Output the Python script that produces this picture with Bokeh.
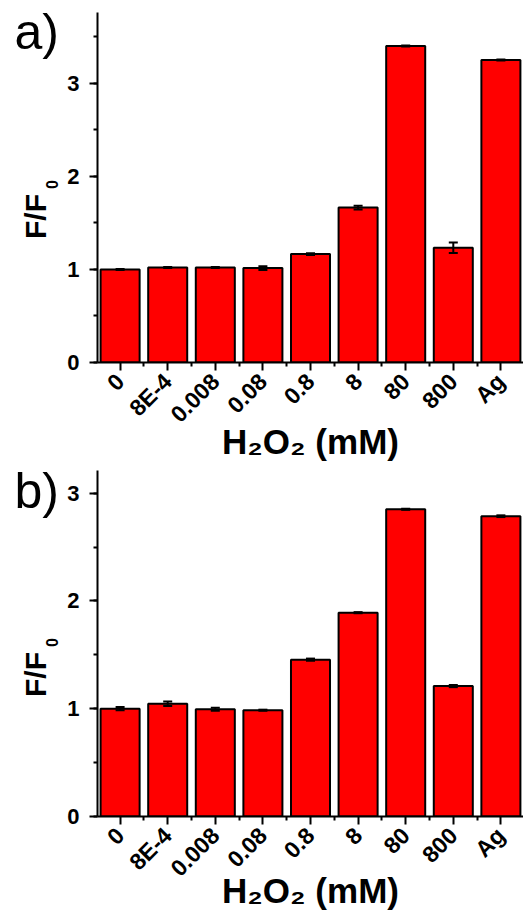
import math

from bokeh.embed import file_html
from bokeh.layouts import column, row
from bokeh.models import (ColumnDataSource, FixedTicker, Label, Range1d,
                          SingleIntervalTicker, TeeHead, Whisker)
from bokeh.plotting import figure
from bokeh.resources import INLINE

# H2O2 concentrations (mM) plus the Ag reference
categories = ["0", "8E-4", "0.008", "0.08", "0.8", "8", "80", "800", "Ag"]

# Panel a: relative fluorescence F/F0 and its error
a_values = [1.00, 1.02, 1.02, 1.015, 1.165, 1.665, 3.40, 1.233, 3.25]
a_errors = [0.005, 0.005, 0.005, 0.02, 0.01, 0.02, 0.005, 0.057, 0.005]

# Panel b: relative fluorescence F/F0 and its error
b_values = [1.00, 1.046, 0.995, 0.986, 1.455, 1.891, 2.85, 1.21, 2.786]
b_errors = [0.015, 0.02, 0.015, 0.005, 0.01, 0.005, 0.005, 0.01, 0.008]

x_title = "H\u2082O\u2082 (mM)"

FONT = "Liberation Sans"
RED = "#ff0000"
PAGE_W, PAGE_H = 523, 913
SIDE_W = 64          # strip left of the charts holding letters and y titles
AXIS_X = 95          # page position of the y axis line
CHART_W = PAGE_W - SIDE_W
X_START, X_END = -0.475, len(categories) - 0.525


def put(p, s, x, y, size, bold=True, angle=0.0, align="left"):
    # x, y in page pixels from the top-left corner
    p.add_layout(Label(x=x, y=PAGE_H - y, text=s, text_font=FONT,
                       text_font_size=f"{size}px",
                       text_font_style="bold" if bold else "normal",
                       text_color="black", angle=angle,
                       text_align=align, text_baseline="middle"))


def chart(values, errors, y_max, height, top, bottom, title_standoff):
    p = figure(width=CHART_W, height=height, output_backend="svg",
               toolbar_location=None, x_range=Range1d(X_START, X_END),
               y_range=Range1d(0, y_max),
               min_border_left=AXIS_X - SIDE_W, min_border_right=0,
               min_border_top=top, min_border_bottom=bottom)
    p.outline_line_color = None
    p.grid.visible = False

    idx = list(range(len(categories)))
    src = ColumnDataSource(dict(
        x=idx, top=values,
        upper=[v + e for v, e in zip(values, errors)],
        lower=[v - e for v, e in zip(values, errors)]))

    p.vbar(x="x", top="top", bottom=0, width=0.82, source=src,
           fill_color=RED, line_color="black", line_width=2)

    p.add_layout(Whisker(
        source=src, base="x", upper="upper", lower="lower",
        line_color="black", line_width=2, level="overlay",
        upper_head=TeeHead(size=9, line_width=2, line_color="black"),
        lower_head=TeeHead(size=9, line_width=2, line_color="black")))

    xa = p.xaxis[0]
    xa.ticker = FixedTicker(ticks=idx,
                            minor_ticks=[i + 0.5 for i in idx[:-1]])
    xa.major_label_overrides = {i: c for i, c in enumerate(categories)}
    xa.major_label_orientation = math.pi / 4
    xa.axis_label = x_title
    xa.axis_label_text_font = FONT
    xa.axis_label_text_font_style = "bold"
    xa.axis_label_text_font_size = "35px"
    xa.axis_label_text_color = "black"
    xa.axis_label_standoff = title_standoff

    ya = p.yaxis[0]
    ya.ticker = SingleIntervalTicker(interval=1, num_minor_ticks=2)

    for ax in (xa, ya):
        ax.axis_line_width = 2
        ax.axis_line_color = "black"
        ax.major_tick_line_width = 2
        ax.minor_tick_line_width = 2
        ax.major_tick_out = 8
        ax.major_tick_in = 0
        ax.minor_tick_out = 4
        ax.minor_tick_in = 0
        ax.major_label_text_font = FONT
        ax.major_label_text_font_style = "bold"
        ax.major_label_text_color = "black"
    ya.major_label_text_font_size = "22px"
    xa.major_label_text_font_size = "23px"
    ya.major_label_standoff = 10
    xa.major_label_standoff = 7
    return p


# panel a: 465 px tall, axis from y=12 to y=362
pa = chart(a_values, a_errors, 3.76, 465, 12, 465 - 362, -18)
# panel b: 448 px tall, axis from y=5 to y=351 (page 470 to 816)
pb = chart(b_values, b_errors, 3.21, 448, 5, 448 - 351, -23)

# strip with the panel letters and the rotated y titles F/F0
side = figure(width=SIDE_W, height=PAGE_H, output_backend="svg",
              toolbar_location=None, x_axis_type=None, y_axis_type=None,
              x_range=Range1d(0, SIDE_W), y_range=Range1d(0, PAGE_H),
              min_border=0)
side.outline_line_color = None
side.grid.visible = False

for letter, letter_y, title_y in (("a)", 31, 216), ("b)", 490, 674)):
    put(side, letter, 14, letter_y, 50, bold=False)
    put(side, "F/F", 35, title_y, 30, angle=math.pi / 2, align="center")
    put(side, "0", 51.5, title_y - 32, 16, angle=math.pi / 2,
        align="center")

layout = row(side, column(pa, pb, spacing=0), spacing=0)
open("out.html", "w").write(file_html(layout, INLINE))
